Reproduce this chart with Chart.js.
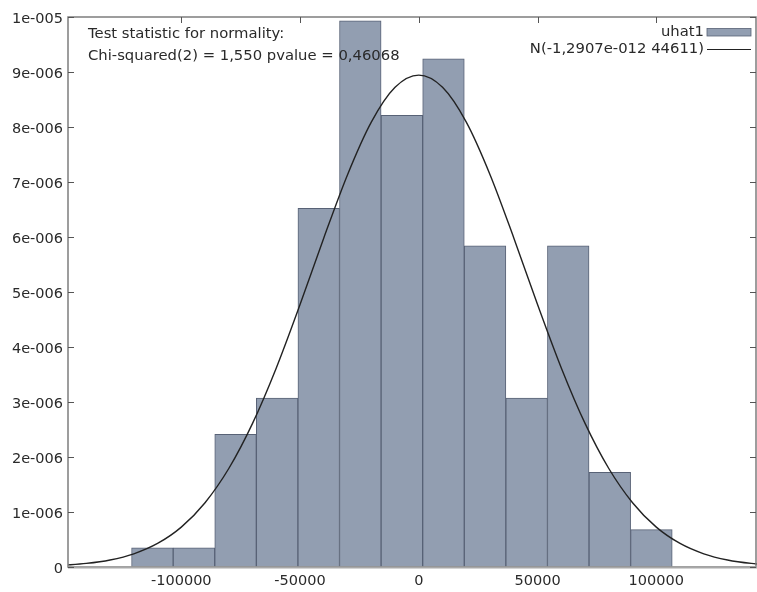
<!DOCTYPE html>
<html>
<head>
<meta charset="utf-8">
<script src="https://cdn.jsdelivr.net/npm/chart.js@4"></script>
<style>
  body { margin: 0; background: #fff; }
  #wrap { width: 757px; height: 592px; }
</style>
</head>
<body>
<div id="wrap"><canvas id="hist"></canvas></div>
<script>
// histogram of uhat1 (bin centres / density)
const binCenters = [-112175, -94665, -77155, -59645, -42135, -24625, -7115, 10395, 27905, 45415, 62925, 80435, 97945];
const density = [3.5e-7, 3.5e-7, 2.41e-6, 3.07e-6, 6.52e-6, 9.93e-6, 8.21e-6, 9.24e-6, 5.84e-6, 3.07e-6, 5.84e-6, 1.72e-6, 6.8e-7];

// normal curve N(-1,2907e-012 44611)
const curveX = [-150000, -140000, -130000, -120000, -110000, -100000, -90000, -80000, -70000, -60000, -50000, -40000, -30000, -20000, -10000, 0,
  10000, 20000, 30000, 40000, 50000, 60000, 70000, 80000, 90000, 100000, 110000, 120000, 130000, 140000, 150000];
const curveY = [3.1e-8, 6.5e-8, 1.28e-7, 2.40e-7, 4.28e-7, 7.25e-7, 1.169e-6, 1.791e-6, 2.611e-6, 3.620e-6, 4.772e-6, 5.983e-6, 7.133e-6, 8.088e-6, 8.721e-6, 8.943e-6,
  8.721e-6, 8.088e-6, 7.133e-6, 5.983e-6, 4.772e-6, 3.620e-6, 2.611e-6, 1.791e-6, 1.169e-6, 7.25e-7, 4.28e-7, 2.40e-7, 1.28e-7, 6.5e-8, 3.1e-8];

const xTicks = [-100000, -50000, 0, 50000, 100000];
const statLines = ["Test statistic for normality:", "Chi-squared(2) = 1,550 pvalue = 0,46068"];

const FONT = "14.8px 'DejaVu Sans'";
const barFill = "rgb(146,158,177)";
const barEdge = "rgb(88,98,118)";

const frame = {
  id: "frame",
  afterDraw(chart) {
    const ctx = chart.ctx;
    const a = chart.chartArea;
    const sx = chart.scales.x, sy = chart.scales.y;
    ctx.save();
    // border box
    ctx.strokeStyle = "#7d7d7d";
    ctx.lineWidth = 1.5;
    ctx.strokeRect(a.left, a.top, a.right - a.left - 1, a.bottom - a.top);
    // bottom axis a bit heavier and lighter
    ctx.strokeStyle = "#a8a8a8";
    ctx.lineWidth = 2;
    ctx.beginPath();
    ctx.moveTo(a.left, a.bottom + 0.5); ctx.lineTo(a.right, a.bottom + 0.5);
    ctx.stroke();
    // inward ticks, mirrored
    ctx.lineWidth = 1;
    ctx.strokeStyle = "#555";
    ctx.beginPath();
    sy.ticks.forEach(t => {
      const y = Math.round(sy.getPixelForValue(t.value)) + 0.5;
      ctx.moveTo(a.left, y); ctx.lineTo(a.left + 6, y);
      ctx.moveTo(a.right - 7, y); ctx.lineTo(a.right - 1, y);
    });
    sx.ticks.forEach(t => {
      const x = Math.round(sx.getPixelForValue(t.value)) + 0.5;
      ctx.moveTo(x, a.top); ctx.lineTo(x, a.top + 6);
    });
    ctx.stroke();

    // normality test text
    ctx.font = FONT;
    ctx.fillStyle = "#2a2a2a";
    ctx.textBaseline = "middle";
    ctx.textAlign = "left";
    ctx.fillText(statLines[0], 88, 34);
    ctx.fillText(statLines[1], 88, 56);

    // key, top right
    const ds = chart.data.datasets;
    ctx.textAlign = "right";
    ctx.fillText(ds[0].label, 704, 32);
    ctx.fillText(ds[1].label, 704, 49.5);
    ctx.fillStyle = barFill;
    ctx.fillRect(707, 28.5, 44, 7.5);
    ctx.strokeStyle = barEdge;
    ctx.lineWidth = 0.8;
    ctx.strokeRect(707, 28.5, 44, 7.5);
    ctx.strokeStyle = "#222";
    ctx.lineWidth = 1.2;
    ctx.beginPath();
    ctx.moveTo(707, 49.5); ctx.lineTo(751, 49.5);
    ctx.stroke();
    ctx.restore();
  }
};

const ctx = document.getElementById("hist").getContext("2d");

const data = {
  datasets: [
    {
      type: "bar",
      label: "uhat1",
      data: binCenters.map((x, i) => ({ x: x, y: density[i] })),
      backgroundColor: barFill,
      borderColor: barEdge,
      borderWidth: 1,
      barPercentage: 1,
      categoryPercentage: 1,
      order: 2,
    },
    {
      type: "line",
      label: "N(-1,2907e-012 44611)",
      data: curveX.map((x, i) => ({ x: x, y: curveY[i] })),
      borderColor: "#222",
      borderWidth: 1.4,
      pointRadius: 0,
      fill: false,
      tension: 0.4,
      cubicInterpolationMode: "monotone",
      order: 1,
    },
  ],
};

const config = {
  data: data,
  options: {
    responsive: true,
    maintainAspectRatio: false,
    animation: false,
    layout: { padding: { top: 17, right: 0, left: 0, bottom: 0 } },
    plugins: { legend: { display: false }, tooltip: { enabled: false } },
    scales: {
      x: {
        type: "linear",
        offset: false,
        min: -147700,
        max: 142400,
        grid: { display: false, drawTicks: false, offset: false },
        border: { display: false },
        afterBuildTicks: (scale) => { scale.ticks = xTicks.map(v => ({ value: v })); },
        afterFit: (scale) => { scale.height = 25; },
        ticks: {
          padding: 6,
          color: "#2a2a2a",
          font: { family: "'DejaVu Sans'", size: 14.5 },
          callback: (v) => String(v),
        },
      },
      y: {
        min: 0,
        max: 1e-5,
        grid: { display: false, drawTicks: false },
        border: { display: false },
        afterFit: (scale) => { scale.width = 68; },
        ticks: {
          stepSize: 1e-6,
          padding: 5,
          labelOffset: 2,
          color: "#2a2a2a",
          font: { family: "'DejaVu Sans'", size: 14.5 },
          callback: (v) => {
            const k = Math.round(v * 1e6);
            if (k === 0) return "0";
            if (k === 10) return "1e-005";
            return k + "e-006";
          },
        },
      },
    },
  },
  plugins: [frame],
};

const chart_1 = new Chart(ctx, config);
</script>
</body>
</html>
